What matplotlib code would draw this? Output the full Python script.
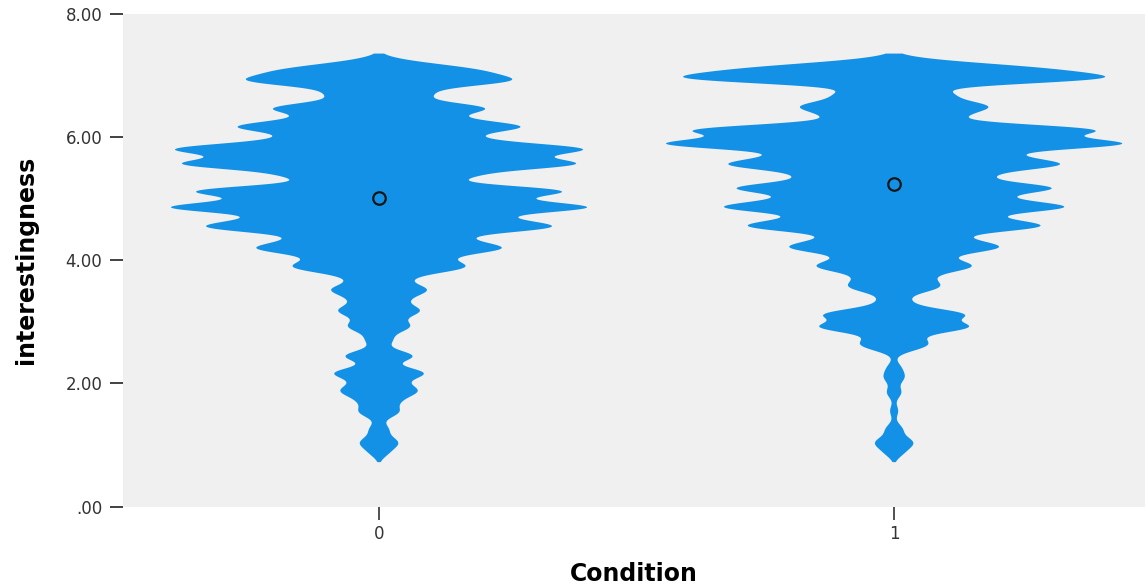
import numpy as np
import matplotlib
matplotlib.use("Agg")
import matplotlib.pyplot as plt

categories = ["0", "1"]
levels_c0 = [0.88, 1.04, 1.25, 1.53, 1.71, 1.87, 2.01, 2.17, 2.44, 2.70, 2.91, 3.04, 3.18,
             3.36, 3.52, 3.70, 3.87, 4.01, 4.18, 4.33, 4.52, 4.66, 4.85, 5.00, 5.13, 5.36,
             5.55, 5.69, 5.81, 5.98, 6.16, 6.31, 6.47, 6.69, 6.90, 7.03, 7.09, 7.19]
weights_c0 = [8, 17, 9, 18, 15, 31, 15, 41, 33, 12, 26, 10, 35,
              20, 41, 21, 68, 42, 100, 59, 138, 83, 184, 57, 156, 75,
              168, 59, 165, 66, 122, 43, 94, 44, 109, 35, 49, 21]
levels_c1 = [0.88, 1.04, 1.25, 1.55, 1.85, 2.09, 2.25, 2.60, 2.71, 2.91, 3.12, 3.33, 3.55,
             3.70, 3.88, 4.01, 4.19, 4.33, 4.53, 4.66, 4.85, 5.00, 5.17, 5.36, 5.54, 5.69,
             5.88, 6.01, 6.12, 6.34, 6.50, 6.69, 6.94, 7.09, 7.19]
weights_c1 = [8, 17, 8, 4, 7, 9, 6, 24, 16, 69, 65, 13, 37,
              26, 61, 33, 84, 49, 116, 64, 146, 66, 139, 70, 136, 78,
              201, 39, 171, 51, 78, 49, 176, 105, 33]
medians = [5.00, 5.24]
yticks = [0, 2, 4, 6, 8]
ytick_labels = [".00", "2.00", "4.00", "6.00", "8.00"]

bw = 0.09
cut = 0.16
max_half_width = 0.443
violin_color = "#1391e6"


def density(levels, weights, grid):
    lv = np.array(levels)
    wt = np.array(weights, dtype=float)
    return np.exp(-(grid[:, None] - lv[None, :]) ** 2 / (2 * bw ** 2)) @ wt


fig, ax = plt.subplots(figsize=(11.45, 5.88), dpi=100)
fig.subplots_adjust(left=0.107, right=1.0, top=0.977, bottom=0.1386)
ax.set_facecolor("#f0f0f0")

groups = [(levels_c0, weights_c0), (levels_c1, weights_c1)]
curves = []
for levels, weights in groups:
    g = np.linspace(min(levels) - cut, max(levels) + cut, 800)
    curves.append((g, density(levels, weights, g)))
dmax = max(d.max() for g, d in curves)

for pos, (g, d) in enumerate(curves):
    w = d / dmax * max_half_width
    xs = np.concatenate([[pos], pos + w, [pos], (pos - w)[::-1]])
    ys = np.concatenate([[g[0]], g, [g[-1]], g[::-1]])
    ax.fill(xs, ys, color=violin_color, lw=0)

ax.plot(range(len(categories)), medians, 'o', ms=9, mfc='none', mec='#151515', mew=1.6)

ax.set_xlim(-0.498, 1.487)
ax.set_ylim(0, 8)
ax.set_xticks(range(len(categories)))
ax.set_xticklabels(categories)
ax.set_yticks(yticks)
ax.set_yticklabels(ytick_labels)
for s in ax.spines.values():
    s.set_visible(False)
ax.tick_params(axis='y', direction='out', length=9.5, width=1.3, color='#333333',
               labelsize=12, labelcolor='#333333', pad=5)
ax.tick_params(axis='x', direction='out', length=9, width=1.2, color='#333333',
               labelsize=12, labelcolor='#333333', pad=4)
ax.set_xlabel("Condition", fontsize=17, fontweight='bold', labelpad=14)
ax.set_ylabel("interestingness", fontsize=17, fontweight='bold', labelpad=20)

fig.savefig("out.png")
